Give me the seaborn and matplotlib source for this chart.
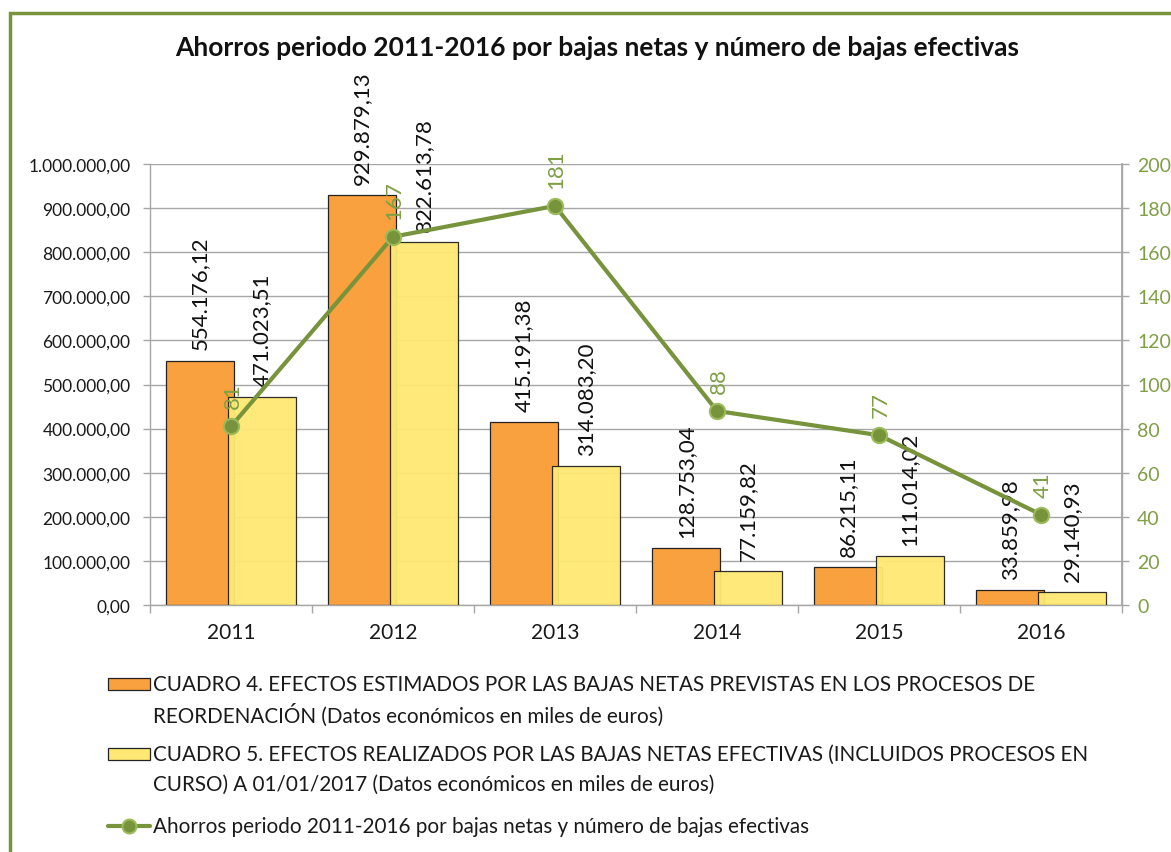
import numpy as np
import pandas as pd
import matplotlib
matplotlib.use("Agg")
import matplotlib.pyplot as plt
import seaborn as sns
from matplotlib.patches import Rectangle
from matplotlib.lines import Line2D

years = ["2011", "2012", "2013", "2014", "2015", "2016"]
cuadro4 = [554176.12, 929879.13, 415191.38, 128753.04, 86215.11, 33859.98]
cuadro5 = [471023.51, 822613.78, 314083.20, 77159.82, 111014.02, 29140.93]
bajas = [81, 167, 181, 88, 77, 41]

title = "Ahorros periodo 2011-2016 por bajas netas y número de bajas efectivas"
leg4 = ["CUADRO 4. EFECTOS ESTIMADOS POR LAS BAJAS NETAS PREVISTAS EN LOS PROCESOS DE",
        "REORDENACIÓN (Datos económicos en miles de euros)"]
leg5 = ["CUADRO 5. EFECTOS REALIZADOS POR LAS BAJAS NETAS EFECTIVAS (INCLUIDOS PROCESOS EN",
        "CURSO) A 01/01/2017 (Datos económicos en miles de euros)"]
leg_line = "Ahorros periodo 2011-2016 por bajas netas y número de bajas efectivas"

ORANGE = "#F9A03F"
YELLOW = "#FFE874"
GREEN = "#77933C"
GREEN_LBL = "#7F9F45"
GRID = "#A6A6A6"

sns.set_theme(style="white")
plt.rcParams["font.family"] = ["Lato", "DejaVu Sans"]

def es_fmt(v, dec=2):
    s = f"{v:,.{dec}f}"
    return s.replace(",", "X").replace(".", ",").replace("X", ".")

W, H = 1171, 853
fig = plt.figure(figsize=(W / 100, H / 100), dpi=100)
fig.patch.set_facecolor("white")

ax = fig.add_axes([150 / W, 1 - 606 / H, (1122 - 150) / W, (606 - 165) / H])

df = pd.DataFrame({
    "year": years * 2,
    "value": cuadro4 + cuadro5,
    "serie": ["c4"] * 6 + ["c5"] * 6,
})
sns.barplot(data=df, x="year", y="value", hue="serie", palette=[ORANGE, YELLOW],
            width=0.8, edgecolor="#222222", linewidth=0.9, ax=ax, legend=False,
            saturation=1)

# slight overlap of the two bars like the original
bars = [p for p in ax.patches if isinstance(p, Rectangle) and p.get_height() > 0]
for p in bars:
    fc = matplotlib.colors.to_hex(p.get_facecolor())
    if fc.lower() == ORANGE.lower():
        p.set_width(0.42)
        p.set_zorder(2)
    else:
        p.set_x(p.get_x() - 0.02)
        p.set_width(0.42)
        p.set_zorder(3)
        p.set_alpha(0.95)

ax.set_ylim(0, 1000000)
ax.set_xlim(-0.5, 5.5)
ax.set_yticks(np.arange(0, 1000001, 100000))
ax.set_yticklabels([es_fmt(v) for v in np.arange(0, 1000001, 100000)])
ax.yaxis.grid(True, color=GRID, linewidth=1.0)
ax.set_axisbelow(True)
ax.set_xlabel("")
ax.set_ylabel("")
ax.tick_params(axis="y", which="major", length=5, color=GRID, width=1,
               labelsize=12.5, labelcolor="#1a1a1a", left=True, pad=9)
ax.tick_params(axis="x", which="major", length=0, labelsize=15, labelcolor="#1a1a1a", pad=12)
ax.set_xticks(np.arange(-0.5, 6, 1), minor=True)
ax.tick_params(axis="x", which="minor", length=6, color=GRID, width=1, bottom=True)
for s in ["left", "bottom", "right"]:
    ax.spines[s].set_color(GRID)
    ax.spines[s].set_linewidth(1)
ax.spines["top"].set_visible(False)

# bar labels
for i in range(6):
    ax.annotate(es_fmt(cuadro4[i]), (i - 0.19, cuadro4[i]), xytext=(0, 8),
                textcoords="offset points", rotation=90, ha="center", va="bottom",
                fontsize=16, color="#111111", zorder=6)
    ax.annotate(es_fmt(cuadro5[i]), (i + 0.19, cuadro5[i]), xytext=(0, 8),
                textcoords="offset points", rotation=90, ha="center", va="bottom",
                fontsize=16, color="#111111", zorder=6)

ax2 = ax.twinx()
ax2.set_position(ax.get_position())
sns.lineplot(x=np.arange(6), y=bajas, ax=ax2, color=GREEN, linewidth=3,
             marker="o", markersize=11, markerfacecolor=GREEN,
             markeredgecolor="#9BBB59", markeredgewidth=1.5, zorder=5)
ax2.set_ylim(0, 200)
ax2.set_yticks(np.arange(0, 201, 20))
ax2.tick_params(axis="y", length=5, color=GRID, width=1, labelsize=14,
                labelcolor=GREEN_LBL, right=True, pad=6)
for s in ax2.spines.values():
    s.set_visible(False)
ax2.spines["right"].set_visible(True)
ax2.spines["right"].set_color(GRID)
ax2.set_xlim(-0.5, 5.5)
ax2.grid(False)
for i in range(6):
    ax2.annotate(str(bajas[i]), (i, bajas[i]), xytext=(1, 13),
                 textcoords="offset points", rotation=90, ha="center", va="bottom",
                 fontsize=16, color=GREEN_LBL, zorder=7)

fig.text(597 / W, 1 - 48 / H, title, ha="center", va="center",
         fontsize=19, fontweight="bold", color="#111111")

# legend (drawn in figure pixel coordinates)
def fy(y):
    return 1 - y / H

def fx(x):
    return x / W

leg_fs = 14.9
fig.patches.append(Rectangle((fx(108), fy(691)), fx(150) - fx(108), (12 / H),
                             transform=fig.transFigure, facecolor=ORANGE,
                             edgecolor="#222222", linewidth=0.9))
fig.text(fx(153), fy(685), leg4[0], ha="left", va="center", fontsize=leg_fs, color="#1a1a1a")
fig.text(fx(153), fy(715), leg4[1], ha="left", va="center", fontsize=leg_fs, color="#1a1a1a")
fig.patches.append(Rectangle((fx(108), fy(761)), fx(150) - fx(108), (12 / H),
                             transform=fig.transFigure, facecolor=YELLOW,
                             edgecolor="#222222", linewidth=0.9))
fig.text(fx(153), fy(755), leg5[0], ha="left", va="center", fontsize=leg_fs, color="#1a1a1a")
fig.text(fx(153), fy(785), leg5[1], ha="left", va="center", fontsize=leg_fs, color="#1a1a1a")
fig.lines.append(Line2D([fx(108), fx(150)], [fy(827), fy(827)], transform=fig.transFigure,
                        color=GREEN, linewidth=3))
fig.lines.append(Line2D([fx(129)], [fy(827)], transform=fig.transFigure, marker="o",
                        markersize=10, color=GREEN, markeredgecolor="#9BBB59",
                        markeredgewidth=1.5, linestyle="none"))
fig.text(fx(153), fy(827), leg_line, ha="left", va="center", fontsize=leg_fs, color="#1a1a1a")

# outer green border
fig.patches.append(Rectangle((fx(10), fy(900)), fx(1200) - fx(10), (900 - 14) / H,
                             transform=fig.transFigure, facecolor="none",
                             edgecolor=GREEN, linewidth=2.5, zorder=10))

fig.savefig("out.png", dpi=100)
